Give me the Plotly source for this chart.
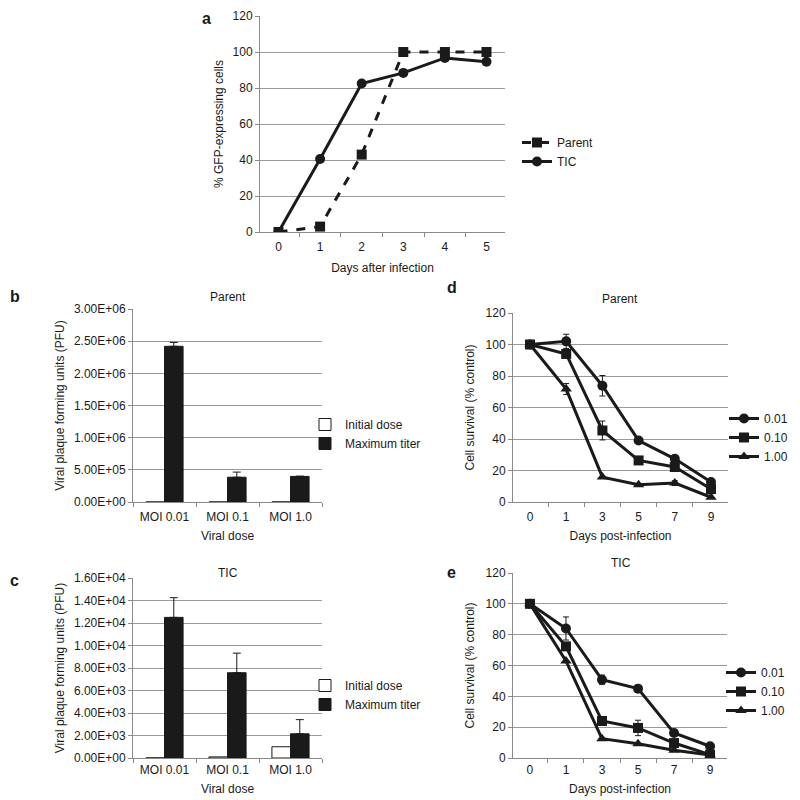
import plotly.graph_objects as go

# ---------------- data ----------------
days_a = ["0", "1", "2", "3", "4", "5"]
parent_a = [0, 3, 43, 100, 100, 100]
tic_a = [0, 40.6, 82.5, 88.4, 96.7, 94.6]

doses = ["MOI 0.01", "MOI 0.1", "MOI 1.0"]
parent_initial = [10, 100, 1000]
parent_max = [2.42e6, 3.85e5, 3.98e5]
parent_max_err = [6.0e4, 8.0e4, 3.0e3]
tic_initial = [10, 100, 1000]
tic_max = [1.25e4, 7.58e3, 2.15e3]
tic_max_err = [1.75e3, 1.74e3, 1.26e3]

days_de = ["0", "1", "3", "5", "7", "9"]
d_001 = [100, 102, 73.8, 39, 27.4, 12.7]
d_001_err = [0, 4.5, 6.5, 0, 0, 0]
d_010 = [100, 94, 45.4, 26.4, 22.2, 8.2]
d_010_err = [0, 0, 6, 0, 0, 0]
d_100 = [100, 71.7, 15.8, 11, 12, 3]
d_100_err = [0, 3.5, 0, 0, 1.5, 0]

e_001 = [100, 84, 50.8, 45, 16.2, 7.6]
e_001_err = [0, 7.5, 3, 0, 0, 0]
e_010 = [100, 72.4, 24, 19.5, 9.7, 2.2]
e_010_err = [0, 0, 0, 5, 0, 0]
e_100 = [100, 63, 12.5, 9.3, 5, 2]
e_100_err = [0, 0, 0, 0, 0, 0]

ticks_a = [0, 20, 40, 60, 80, 100, 120]
ticks_b = [0, 5e5, 1e6, 1.5e6, 2e6, 2.5e6, 3e6]
ticks_b_text = ["0.00E+00", "5.00E+05", "1.00E+06", "1.50E+06", "2.00E+06", "2.50E+06", "3.00E+06"]
ticks_c = [0, 2e3, 4e3, 6e3, 8e3, 1e4, 1.2e4, 1.4e4, 1.6e4]
ticks_c_text = ["0.00E+00", "2.00E+03", "4.00E+03", "6.00E+03", "8.00E+03",
                "1.00E+04", "1.20E+04", "1.40E+04", "1.60E+04"]

# ---------------- style ----------------
FONT = "Liberation Sans, Arial, sans-serif"
FS = 12
INK = "#1a1a1a"
GRID = "#9a9a9a"
AXC = "#8a8a8a"
OFF = 8      # page body margin
W = 792


def px_x(p):
    return (p - OFF) / W


def px_y(p):
    return 1 - (p - OFF) / W


fig = go.Figure()

# ---- panel a ----
fig.add_trace(go.Scatter(x=days_a, y=parent_a, name="Parent", mode="lines+markers",
                         line=dict(color=INK, width=3, dash="dash"),
                         marker=dict(symbol="square", size=10, color=INK),
                         xaxis="x", yaxis="y", legend="legend"))
fig.add_trace(go.Scatter(x=days_a, y=tic_a, name="TIC", mode="lines+markers",
                         line=dict(color=INK, width=3),
                         marker=dict(symbol="circle", size=10, color=INK),
                         xaxis="x", yaxis="y", legend="legend"))

# ---- panel b ----
fig.add_trace(go.Bar(x=doses, y=parent_initial, name="Initial dose",
                     marker=dict(color="white", line=dict(color=INK, width=1)),
                     xaxis="x2", yaxis="y2", legend="legend2"))
fig.add_trace(go.Bar(x=doses, y=parent_max, name="Maximum titer",
                     marker=dict(color=INK, line=dict(color=INK, width=1)),
                     error_y=dict(type="data", array=parent_max_err, symmetric=False,
                                  arrayminus=[0, 0, 0], color=INK, thickness=1, width=4),
                     xaxis="x2", yaxis="y2", legend="legend2"))

# ---- panel c ----
fig.add_trace(go.Bar(x=doses, y=tic_initial, name="Initial dose",
                     marker=dict(color="white", line=dict(color=INK, width=1)),
                     xaxis="x3", yaxis="y3", legend="legend3"))
fig.add_trace(go.Bar(x=doses, y=tic_max, name="Maximum titer",
                     marker=dict(color=INK, line=dict(color=INK, width=1)),
                     error_y=dict(type="data", array=tic_max_err, symmetric=False,
                                  arrayminus=[0, 0, 0], color=INK, thickness=1, width=4),
                     xaxis="x3", yaxis="y3", legend="legend3"))

# ---- panels d, e ----
series_d = [("0.01", d_001, d_001_err, "circle"),
            ("0.10", d_010, d_010_err, "square"),
            ("1.00", d_100, d_100_err, "triangle-up")]
series_e = [("0.01", e_001, e_001_err, "circle"),
            ("0.10", e_010, e_010_err, "square"),
            ("1.00", e_100, e_100_err, "triangle-up")]
for (nm, vals, err, sym) in series_d:
    fig.add_trace(go.Scatter(x=days_de, y=vals, name=nm, mode="lines+markers",
                             line=dict(color=INK, width=3),
                             marker=dict(symbol=sym, size=10, color=INK),
                             error_y=dict(type="data", array=err, color=INK, thickness=1, width=3),
                             xaxis="x4", yaxis="y4", legend="legend4"))
for (nm, vals, err, sym) in series_e:
    fig.add_trace(go.Scatter(x=days_de, y=vals, name=nm, mode="lines+markers",
                             line=dict(color=INK, width=3),
                             marker=dict(symbol=sym, size=10, color=INK),
                             error_y=dict(type="data", array=err, color=INK, thickness=1, width=3),
                             xaxis="x5", yaxis="y5", legend="legend5"))


def xax(dom, anchor, title, standoff, tls):
    return dict(domain=dom, anchor=anchor, type="category", showgrid=False,
                showline=True, linecolor=AXC, linewidth=1, ticks="outside",
                tickson="boundaries", ticklen=4, tickcolor=AXC, zeroline=False,
                ticklabelstandoff=tls,
                tickfont=dict(family=FONT, size=FS, color=INK), automargin=False,
                title=dict(text=title, font=dict(family=FONT, size=FS, color=INK),
                           standoff=standoff), fixedrange=True)


def yax(dom, anchor, rng, tv, tt, title, standoff):
    return dict(domain=dom, anchor=anchor, range=rng, tickvals=tv, ticktext=tt,
                showgrid=True, gridcolor=GRID, gridwidth=1, showline=True,
                linecolor=AXC, linewidth=1, ticks="outside", ticklen=4,
                tickcolor=AXC, zeroline=False, automargin=False,
                tickfont=dict(family=FONT, size=FS, color=INK),
                title=dict(text=title, font=dict(family=FONT, size=FS, color=INK),
                           standoff=standoff), fixedrange=True)


lay = dict(
    width=W, height=W,
    margin=dict(l=0, r=0, t=0, b=0),
    paper_bgcolor="white", plot_bgcolor="white",
    template="none",
    font=dict(family=FONT, size=FS, color=INK),
    barmode="group", bargap=0.41, bargroupgap=0,
    xaxis=xax([px_x(260), px_x(505)], "y", "Days after infection", 10, 4),
    yaxis=yax([px_y(232), px_y(16)], "x", [0, 120], ticks_a, [str(t) for t in ticks_a],
              "% GFP-expressing cells", 6),
    xaxis2=xax([px_x(133), px_x(322)], "y2", "Viral dose", 8, 4),
    yaxis2=yax([px_y(502), px_y(309)], "x2", [0, 3e6], ticks_b, ticks_b_text,
               "Viral plaque forming units (PFU)", 6),
    xaxis3=xax([px_x(133), px_x(322)], "y3", "Viral dose", 8, 1),
    yaxis3=yax([px_y(758), px_y(578)], "x3", [0, 1.6e4], ticks_c, ticks_c_text,
               "Viral plaque forming units (PFU)", 6),
    xaxis4=xax([px_x(513), px_x(728)], "y4", "Days post-infection", 8, 4),
    yaxis4=yax([px_y(502), px_y(313)], "x4", [0, 120], ticks_a, [str(t) for t in ticks_a],
               "Cell survival (% control)", 8),
    xaxis5=xax([px_x(513), px_x(727)], "y5", "Days post-infection", 8, 1),
    yaxis5=yax([px_y(758), px_y(573)], "x5", [0, 120], ticks_a, [str(t) for t in ticks_a],
               "Cell survival (% control)", 8),
)

leg_common = dict(xanchor="left", yanchor="top", bgcolor="rgba(0,0,0,0)",
                  font=dict(family=FONT, size=FS, color=INK), tracegroupgap=0,
                  itemclick=False, itemdoubleclick=False)
lay["legend"] = dict(x=px_x(517), y=px_y(128), **leg_common)
lay["legend2"] = dict(x=px_x(305), y=px_y(410), **leg_common)
lay["legend3"] = dict(x=px_x(305), y=px_y(671), **leg_common)
lay["legend4"] = dict(x=px_x(724), y=px_y(404), **leg_common)
lay["legend5"] = dict(x=px_x(721), y=px_y(658), **leg_common)

fig.update_layout(**lay)

annots = [
    ("a", 207, 8, "center", "top"), ("b", 8, 296, "left", "middle"),
    ("c", 8, 580, "left", "middle"),
    ("d", 452, 287, "center", "middle"), ("e", 452, 572, "center", "middle"),
]
for txt, xp, yp, anc, vanc in annots:
    fig.add_annotation(text=f"<b>{txt}</b>", x=px_x(xp), y=px_y(yp),
                       xref="paper", yref="paper", xanchor=anc, yanchor=vanc,
                       showarrow=False, font=dict(family=FONT, size=16, color=INK))

titles = [("Parent", 228, 297), ("TIC", 228, 573), ("Parent", 620, 299), ("TIC", 621, 563)]
for txt, xp, yp in titles:
    fig.add_annotation(text=txt, x=px_x(xp), y=px_y(yp), xref="paper", yref="paper",
                       xanchor="center", yanchor="middle", showarrow=False,
                       font=dict(family=FONT, size=FS, color=INK))

fig.write_html("out.html")
